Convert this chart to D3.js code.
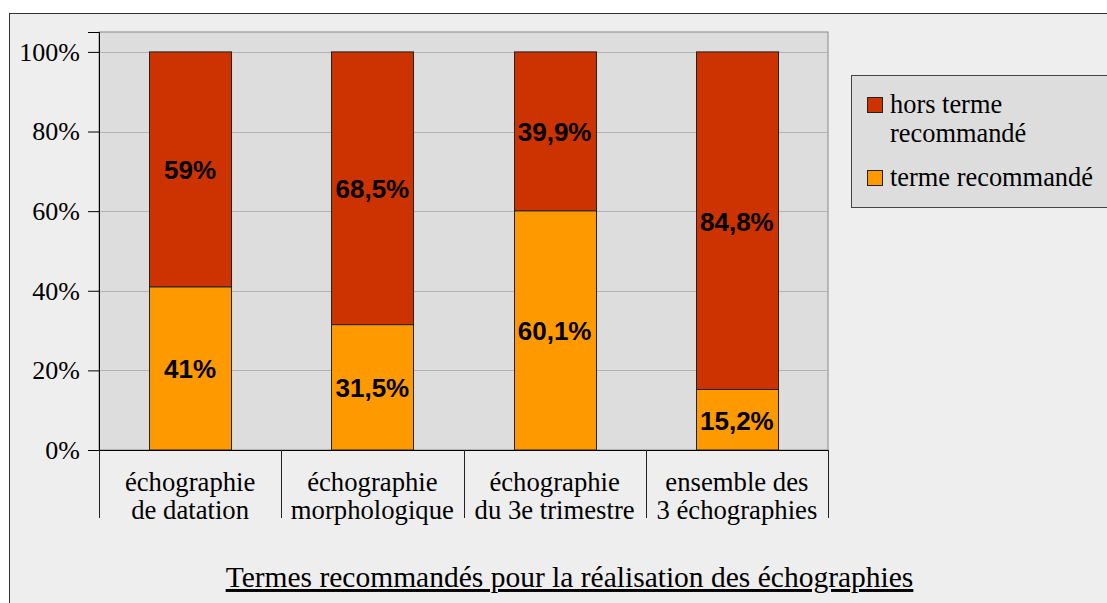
<!DOCTYPE html>
<html>
<head>
<meta charset="utf-8">
<script src="https://cdn.jsdelivr.net/npm/d3@7"></script>
<style>
  body { margin: 0; background: #fff; }
</style>
</head>
<body>
<div id="chart"></div>
<script>
// categories (each split on two lines like the original)
const categories = [
  ['échographie', 'de datation'],
  ['échographie', 'morphologique'],
  ['échographie', 'du 3e trimestre'],
  ['ensemble des', '3 échographies']
];
const termeRecommande = [41, 31.5, 60.1, 15.2];
const horsTerme = [59, 68.5, 39.9, 84.8];
const termeLabels = ['41%', '31,5%', '60,1%', '15,2%'];
const horsLabels = ['59%', '68,5%', '39,9%', '84,8%'];
const yTicks = [0, 20, 40, 60, 80, 100];
const seriesNames = ['hors terme recommandé', 'terme recommandé'];

const width = 1107, height = 603;
const plot = {left: 99, right: 828, top: 32, bottom: 450};
const colRed = '#cc3300', colOrange = '#ff9900';
const serifFont = 'Liberation Serif';

const svg = d3.select('#chart').append('svg')
  .attr('width', width)
  .attr('height', height);

// outer frame
svg.append('rect')
  .attr('x', 9.5).attr('y', 13.5)
  .attr('width', 1200).attr('height', 700)
  .attr('fill', '#eeeeee')
  .attr('stroke', '#333');

// plot area
svg.append('rect')
  .attr('x', plot.left).attr('y', plot.top)
  .attr('width', plot.right - plot.left).attr('height', plot.bottom - plot.top)
  .attr('fill', '#dddddd')
  .attr('stroke', '#888');

const x = d3.scaleBand()
  .domain(d3.range(categories.length))
  .range([plot.left, plot.right])
  .paddingInner(0.55)
  .paddingOuter(0.275);

const y = d3.scaleLinear()
  .domain([0, 105])
  .range([plot.bottom, plot.top]);

// grid lines
svg.append('g').selectAll('line')
  .data(yTicks.filter(d => d > 0))
  .enter().append('line')
  .attr('x1', plot.left).attr('x2', plot.right)
  .attr('y1', d => Math.round(y(d)) + 0.5).attr('y2', d => Math.round(y(d)) + 0.5)
  .attr('stroke', '#b3b3b3');

// y axis
const yAxis = d3.axisLeft(y)
  .tickValues(yTicks)
  .tickSize(11)
  .tickPadding(8)
  .tickFormat(d => d + '%');
const gy = svg.append('g')
  .attr('transform', `translate(${plot.left},0)`)
  .call(yAxis)
  .attr('font-family', null)
  .attr('font-size', null);
gy.select('.domain').attr('stroke', '#000');
gy.selectAll('.tick line').attr('stroke', '#000');
gy.selectAll('.tick text')
  .style('font-family', serifFont)
  .style('font-size', '26px')
  .attr('fill', '#000');

// stacked bars
const bars = svg.append('g');
bars.selectAll('rect.terme')
  .data(termeRecommande)
  .enter().append('rect')
  .attr('class', 'terme')
  .attr('x', (d, i) => Math.round(x(i)) + 0.5)
  .attr('width', x.bandwidth())
  .attr('y', d => y(d))
  .attr('height', d => y(0) - y(d))
  .attr('fill', colOrange)
  .attr('stroke', '#222');
bars.selectAll('rect.hors')
  .data(horsTerme)
  .enter().append('rect')
  .attr('class', 'hors')
  .attr('x', (d, i) => Math.round(x(i)) + 0.5)
  .attr('width', x.bandwidth())
  .attr('y', (d, i) => y(termeRecommande[i] + d))
  .attr('height', (d, i) => y(termeRecommande[i]) - y(termeRecommande[i] + d))
  .attr('fill', colRed)
  .attr('stroke', '#222');

// value labels
const labelStyle = sel => sel
  .attr('text-anchor', 'middle')
  .attr('dominant-baseline', 'central')
  .style('font-family', 'Liberation Sans')
  .style('font-weight', 'bold')
  .style('font-size', '26px')
  .attr('fill', '#000');
svg.append('g').selectAll('text')
  .data(termeRecommande)
  .enter().append('text')
  .attr('x', (d, i) => x(i) + x.bandwidth() / 2)
  .attr('y', d => y(d / 2) + 1)
  .text((d, i) => termeLabels[i])
  .call(labelStyle);
svg.append('g').selectAll('text')
  .data(horsTerme)
  .enter().append('text')
  .attr('x', (d, i) => x(i) + x.bandwidth() / 2)
  .attr('y', (d, i) => y(termeRecommande[i] + d / 2) + 1)
  .text((d, i) => horsLabels[i])
  .call(labelStyle);

// x axis line and category separators
svg.append('line')
  .attr('x1', plot.left).attr('x2', plot.right)
  .attr('y1', plot.bottom + 0.5).attr('y2', plot.bottom + 0.5)
  .attr('stroke', '#000');
const step = x.step();
svg.append('g').selectAll('line')
  .data(d3.range(categories.length + 1))
  .enter().append('line')
  .attr('x1', i => Math.round(plot.left + i * step) + 0.5)
  .attr('x2', i => Math.round(plot.left + i * step) + 0.5)
  .attr('y1', plot.bottom).attr('y2', 518)
  .attr('stroke', '#222');

const catText = svg.append('g').selectAll('text')
  .data(categories)
  .enter().append('text')
  .attr('text-anchor', 'middle')
  .style('font-family', serifFont)
  .style('font-size', '26.7px')
  .attr('fill', '#000');
catText.selectAll('tspan')
  .data((d, i) => d.map(s => ({s, i})))
  .enter().append('tspan')
  .attr('x', d => x(d.i) + x.bandwidth() / 2)
  .attr('y', (d, j) => 491 + j * 27.5)
  .text(d => d.s);

// title
svg.append('text')
  .attr('x', 569.5).attr('y', 587)
  .attr('text-anchor', 'middle')
  .style('font-family', serifFont)
  .style('font-size', '29.5px')
  .style('text-decoration', 'underline')
  .attr('fill', '#000')
  .text('Termes recommandés pour la réalisation des échographies');

// legend
const legend = svg.append('g');
legend.append('rect')
  .attr('x', 851.5).attr('y', 75.5)
  .attr('width', 300).attr('height', 132)
  .attr('fill', '#dddddd')
  .attr('stroke', '#444');
const legendItems = [
  {color: colRed, lines: ['hors terme', 'recommandé'], y: 97},
  {color: colOrange, lines: ['terme recommandé'], y: 170}
];
legendItems.forEach(it => {
  legend.append('rect')
    .attr('x', 867.5).attr('y', it.y + 0.5)
    .attr('width', 15).attr('height', 15)
    .attr('fill', it.color)
    .attr('stroke', '#222');
  const t = legend.append('text')
    .style('font-family', serifFont)
    .style('font-size', '26.4px')
    .attr('fill', '#000');
  it.lines.forEach((s, j) => {
    t.append('tspan').attr('x', 890).attr('y', it.y + 16 + j * 29).text(s);
  });
});
</script>
</body>
</html>
